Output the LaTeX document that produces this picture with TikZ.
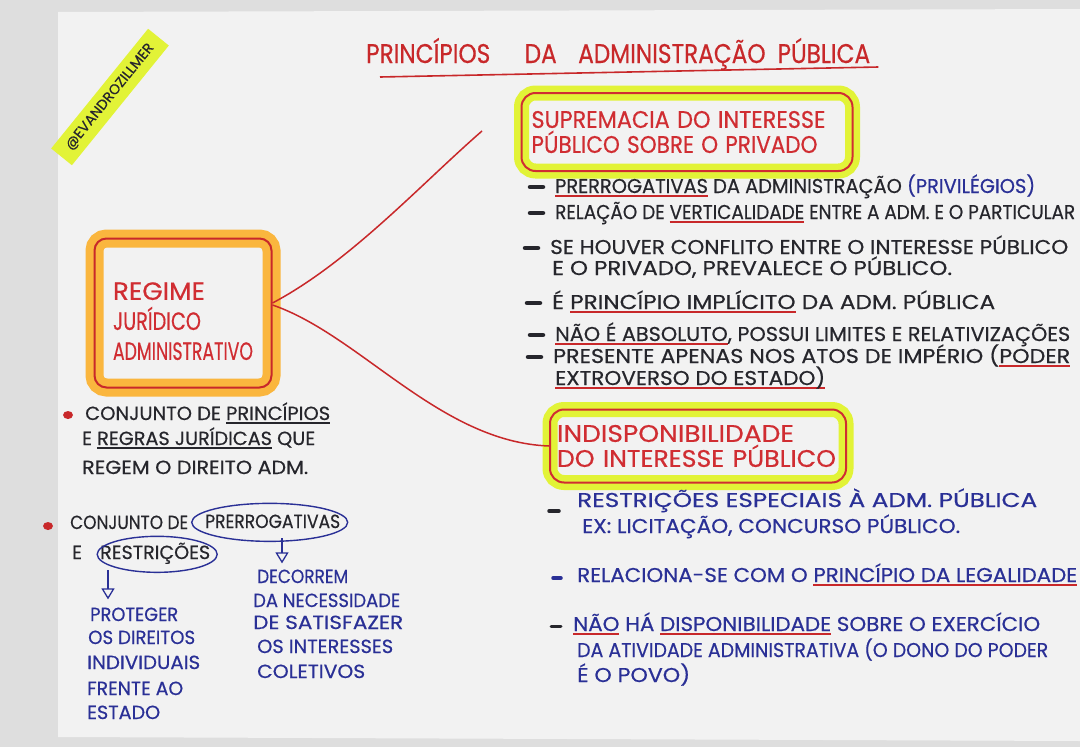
\documentclass[tikz,border=0pt]{standalone}
\usepackage{fontspec}
\setmainfont{Poppins}[FakeBold=0.5]
\usepackage{graphicx}
\usetikzlibrary{shapes.geometric,arrows.meta}
\definecolor{penred}{RGB}{200,40,42}
\definecolor{boxred}{RGB}{208,45,50}
\definecolor{inkblack}{RGB}{38,38,44}
\definecolor{inkblue}{RGB}{42,48,150}
\definecolor{hlyellow}{RGB}{226,243,55}
\definecolor{hlorange}{RGB}{250,182,62}
\definecolor{paper}{RGB}{242,242,242}
\definecolor{wall}{RGB}{222,222,222}
\newsavebox\ulbox
\newcommand\rul[1]{\sbox\ulbox{#1}\rlap{\textcolor{penred}{\rule[-3.5pt]{\wd\ulbox}{1.8pt}}}\usebox\ulbox}
\newcommand\kul[1]{\sbox\ulbox{#1}\rlap{\textcolor{inkblack}{\rule[-3.5pt]{\wd\ulbox}{1.4pt}}}\usebox\ulbox}
\newcommand\tw[2]{\resizebox{#1}{\height}{#2}}
\begin{document}
\begin{tikzpicture}[x=1pt,y=-1pt,
  txt/.style={anchor=base west, inner sep=0pt, text=inkblack, font=\fontsize{20}{22}\selectfont},
  btxt/.style={txt, text=inkblue},
  ltxt/.style={txt, font=\fontsize{19}{22}\selectfont},
  lbtxt/.style={ltxt, text=inkblue},
  hlbox/.style={draw=boxred, line width=2pt, rounded corners=14pt, text=boxred, align=left,
     preaction={draw=hlyellow, line width=15pt}},
  conn/.style={draw=penred, line width=1.5pt},
  dashb/.style={line width=4.5pt, line cap=round, draw=inkblack},
  oarrow/.style={draw=inkblue, line width=1.3pt, -{Triangle[open, width=13pt, length=11pt]}},
  ring/.style={draw=inkblue, line width=1.4pt}
]
\useasboundingbox (0,0) rectangle (1080,747);
\fill[wall] (0,0) rectangle (1080,747);
\fill[paper] (58,12) -- (1080,9) -- (1080,741) -- (58,737) -- cycle;

% handle
\node[rotate=51, fill=hlyellow, inner xsep=11pt, inner ysep=7pt, text=inkblack,
      font=\fontsize{14}{14}\selectfont] (handle) at (110,97) {\tw{132pt}{@EVANDROZILLMER}};

% title
\node[txt, text=penred, font=\fontsize{27}{30}\selectfont] (title) at (366,63)
  {\tw{504pt}{PRINCÍPIOS\hspace{40pt}DA\hspace{25pt}ADMINISTRAÇÃO\hspace{14pt}PÚBLICA}};
\draw[penred, line width=1.6pt] ([xshift=14pt,yshift=-14pt]title.base west) -- ([xshift=8pt,yshift=-4pt]title.base east);

% central node
\node[draw=penred, line width=2pt, rounded corners=12pt, text=boxred, align=left,
      minimum width=177pt, minimum height=149pt, text width=140pt, inner xsep=18.5pt,
      preaction={draw=hlorange, line width=18pt},
      font=\fontsize{25}{30}\selectfont] (reg) at (183,313)
  {\rule{0pt}{34pt}\tw{92pt}{REGIME}\\\tw{88pt}{JURÍDICO}\\\tw{140pt}{ADMINISTRATIVO}};

% supremacia
\node[hlbox, minimum width=331pt, minimum height=78pt, text width=311pt, inner xsep=10pt,
      font=\fontsize{24}{25}\selectfont] (sup) at (687,132)
  {\tw{294pt}{SUPREMACIA DO INTERESSE}\\\tw{286pt}{PÚBLICO SOBRE O PRIVADO}};

% indisponibilidade
\node[hlbox, minimum width=296pt, minimum height=73pt, text width=282pt, inner xsep=7pt,
      font=\fontsize{24}{25}\selectfont] (ind) at (698,446)
  {\tw{237pt}{INDISPONIBILIDADE}\\\tw{279pt}{DO INTERESSE PÚBLICO}};

% connectors
\coordinate (supend) at (482,131);
\draw[conn] ([yshift=10pt]reg.east) .. controls (350,262) and (420,185) .. (supend);
\draw[conn] ([yshift=8pt]reg.east) .. controls (360,335) and (440,442) .. (ind.west);

% supremacia bullets
\node[txt] (s1) at (555,193) {\tw{480pt}{\rul{PRERROGATIVAS} DA ADMINISTRAÇÃO \textcolor{inkblue}{(PRIVILÉGIOS)}}};
\node[txt] (s2) at (555,219) {\tw{520pt}{RELAÇÃO DE \rul{VERTICALIDADE} ENTRE A ADM. E O PARTICULAR}};
\node[txt] (s3a) at (550,254) {\tw{518pt}{SE HOUVER CONFLITO ENTRE O INTERESSE PÚBLICO}};
\node[txt] (s3b) at (552,275) {\tw{400pt}{E O PRIVADO, PREVALECE O PÚBLICO.}};
\node[txt] (s4) at (552,309) {\tw{443pt}{É \rul{PRINCÍPIO IMPLÍCITO} DA ADM. PÚBLICA}};
\node[txt] (s5) at (555,341) {\tw{515pt}{\rul{NÃO É ABSOLUTO}, POSSUI LIMITES E RELATIVIZAÇÕES}};
\node[txt] (s6) at (553,363) {\tw{517pt}{PRESENTE APENAS NOS ATOS DE IMPÉRIO (\rul{PODER}}};
\node[txt] (s7) at (555,385) {\tw{270pt}{\rul{EXTROVERSO DO ESTADO)}}};
\foreach \n in {s1,s2,s3a,s4,s5,s6}
  \draw[dashb] ([xshift=-25pt,yshift=6pt]\n.base west) -- ++(13,0);

% indisponibilidade bullets
\node[btxt] (i1) at (577,507) {\tw{460pt}{RESTRIÇÕES ESPECIAIS À ADM. PÚBLICA}};
\node[btxt] (i1b) at (582,533) {\tw{378pt}{EX: LICITAÇÃO, CONCURSO PÚBLICO.}};
\node[btxt] (i2) at (577,582) {\tw{500pt}{RELACIONA-SE COM O \rul{PRINCÍPIO DA LEGALIDADE}}};
\node[btxt] (i3a) at (573,631) {\tw{467pt}{\rul{NÃO} HÁ \rul{DISPONIBILIDADE} SOBRE O EXERCÍCIO}};
\node[btxt] (i3b) at (577,657) {\tw{471pt}{DA ATIVIDADE ADMINISTRATIVA (O DONO DO PODER}};
\node[btxt] (i3c) at (577,682) {\tw{113pt}{É O POVO)}};
\draw[dashb, line width=3.5pt] ([xshift=-28pt,yshift=-4pt]i1.base west) -- ++(10,0);
\draw[dashb, line width=3.5pt, draw=inkblue] ([xshift=-24pt,yshift=4pt]i2.base west) -- ++(8,0);
\draw[dashb, line width=3pt] ([xshift=-22pt,yshift=5pt]i3a.base west) -- ++(10,0);

% left texts
\node[ltxt] (l1) at (85,420) {\tw{245pt}{CONJUNTO DE \kul{PRINCÍPIOS}}};
\node[ltxt] (l2) at (82,445) {\tw{233pt}{E \kul{REGRAS JURÍDICAS} QUE}};
\node[ltxt] (l3) at (82,474) {\tw{226pt}{REGEM O DIREITO ADM.}};
\fill[penred] ([xshift=-17pt,yshift=5pt]l1.base west) ellipse (5 and 4);

\node[ltxt] (cj) at (70,529) {\tw{118pt}{CONJUNTO DE}};
\node[ltxt] (prr) at (205,528) {\tw{135pt}{PRERROGATIVAS}};
\node[ltxt] (ee) at (72,559) {E};
\node[ltxt] (res) at (100,559) {\tw{110pt}{RESTRIÇÕES}};
\fill[penred] ([xshift=-22pt,yshift=3pt]cj.base west) ellipse (5 and 4);
\draw[ring] ([xshift=-3pt,yshift=-1pt]prr.center) ellipse (78 and 19);
\draw[ring] ([xshift=2pt,yshift=-1pt]res.center) ellipse (60 and 18);

% blue columns
\node[lbtxt] (p1) at (90,621) {\tw{88pt}{PROTEGER}};
\node[lbtxt] (p2) at (88,644) {\tw{107pt}{OS DIREITOS}};
\node[lbtxt] (p3) at (87,669) {\tw{113pt}{INDIVIDUAIS}};
\node[lbtxt] (p4) at (87,695) {\tw{96pt}{FRENTE AO}};
\node[lbtxt] (p5) at (87,719) {\tw{73pt}{ESTADO}};
\node[lbtxt] (d1) at (257,583) {\tw{91pt}{DECORREM}};
\node[lbtxt] (d2) at (253,607) {\tw{147pt}{DA NECESSIDADE}};
\node[lbtxt] (d3) at (253,629) {\tw{150pt}{DE SATISFAZER}};
\node[lbtxt] (d4) at (257,653) {\tw{136pt}{OS INTERESSES}};
\node[lbtxt] (d5) at (257,678) {\tw{108pt}{COLETIVOS}};

\coordinate (resbot) at (108,570);
\coordinate (prrbot) at (282,538);
\draw[oarrow, shorten >=8pt] (resbot) -- (resbot |- p1.north);
\draw[oarrow, shorten >=6pt] (prrbot) -- (prrbot |- d1.north);
\end{tikzpicture}
\end{document}
